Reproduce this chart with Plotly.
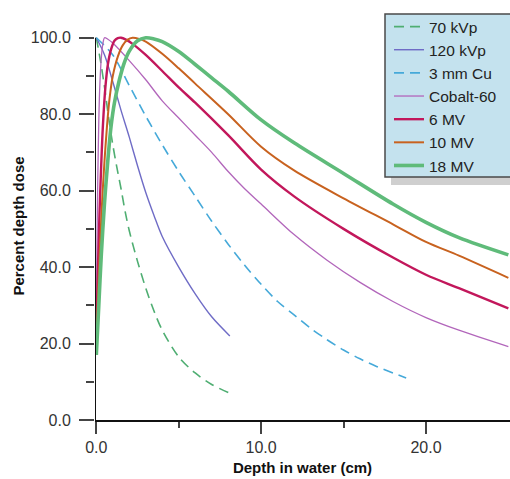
import plotly.graph_objects as go

# Percent depth dose in water for several beam qualities
depth_70kvp = [0, 0.25, 0.5, 0.75, 1.0, 1.25, 1.5, 1.75, 2.0, 2.5, 3.0, 3.5, 4.0, 5.0, 6.0, 7.0, 8.1]
pdd_70kvp = [100, 94, 87, 79, 72, 66, 60.5, 54.5, 49.5, 41.5, 34.5, 28.5, 23.5, 16.5, 12.3, 9.3, 7.0]

depth_120kvp = [0, 0.5, 1, 1.5, 2, 2.5, 3, 3.5, 4, 5, 6, 7, 8.1]
pdd_120kvp = [100, 95.5, 88.5, 81, 74, 66.5, 59.5, 53.5, 48, 40, 33, 27, 22]

depth_cu = [0, 1, 2, 3, 4, 5, 6, 7, 8, 9, 10, 11, 12, 13, 14, 15, 16, 17, 18, 18.8]
pdd_cu = [100, 95.5, 87.5, 79.5, 72, 65, 58.5, 52, 46, 40.5, 35.5, 31, 27.5, 24, 21, 18.3, 16, 14, 12.3, 11]

depth_co = [0, 0.05, 0.1, 0.15, 0.2, 0.3, 0.4, 0.5, 0.7, 1, 2, 3, 4, 5, 6, 7, 8, 9, 10, 12, 14, 16, 18, 20, 22, 25]
pdd_co = [25, 50, 66, 78, 86, 94.5, 98.5, 100, 99.6, 98.6, 94, 89, 83.5, 79, 74.5, 70, 65, 60.5, 56.5, 48.5, 41.8, 36, 31, 26.8, 23.5, 19.2]

depth_6mv = [0, 0.1, 0.2, 0.3, 0.4, 0.55, 0.7, 0.9, 1.1, 1.3, 1.5, 1.8, 2.2, 3, 4, 5, 6, 8, 10, 12, 15, 18, 20, 22, 25]
pdd_6mv = [23, 40, 55, 67, 77, 87, 93, 97, 99.2, 99.9, 100, 99.5, 98.4, 95.5, 91.3, 87, 83, 74.5, 65.5, 58.5, 50, 42.5, 38, 34.5, 29.2]

depth_10mv = [0, 0.1, 0.2, 0.35, 0.5, 0.65, 0.8, 1.0, 1.3, 1.6, 1.9, 2.2, 2.6, 3, 4, 5, 6, 8, 10, 12, 15, 18, 20, 22, 25]
pdd_10mv = [20, 32, 43, 57, 68, 77, 84, 90, 95, 98, 99.5, 100, 99.7, 99, 95.8, 92, 88, 80, 71.5, 65.3, 58, 51.2, 46.6, 43, 37.2]

depth_18mv = [0, 0.15, 0.3, 0.5, 0.7, 0.9, 1.1, 1.4, 1.7, 2.0, 2.5, 3.0, 3.5, 4, 5, 6, 7, 8, 10, 12, 15, 18, 20, 22, 25]
pdd_18mv = [17, 30, 43, 57, 68, 77, 83, 89, 93.5, 96.5, 99.2, 100, 99.7, 99, 96.4, 93, 89.5, 86, 78.5, 72.5, 64.5, 56.5, 51.7, 47.7, 43.2]

series = [
    ("70 kVp", depth_70kvp, pdd_70kvp, "#4fae72", 1.6, "10px,6px"),
    ("120 kVp", depth_120kvp, pdd_120kvp, "#6f6cc6", 1.4, "solid"),
    ("3 mm Cu", depth_cu, pdd_cu, "#45a9d9", 1.6, "10px,6px"),
    ("Cobalt-60", depth_co, pdd_co, "#b266bb", 1.3, "solid"),
    ("6 MV", depth_6mv, pdd_6mv, "#c2175b", 2.4, "solid"),
    ("10 MV", depth_10mv, pdd_10mv, "#c8621f", 2.0, "solid"),
    ("18 MV", depth_18mv, pdd_18mv, "#5fbb7a", 3.6, "solid"),
]

FONT = "Liberation Sans, Arial, sans-serif"

fig = go.Figure()
for i, (name, xs, ys, color, width, dash) in enumerate(series):
    fig.add_trace(go.Scatter(
        x=xs, y=ys, name=name, mode="lines",
        line=dict(color=color, width=width, dash=dash, shape="spline", smoothing=0.9),
        legendgroup=f"g{i}",
    ))

# geometry of the plotting area in pixels
W, H = 510, 479
ML, MR, MT, MB = 95, 0, 32, 59
XR = [-0.08, 25.1]
YR = [0, 101.5]


def px_to_paper(px, py):
    return (px - ML) / (W - ML - MR), (H - MB - py) / (H - MT - MB)


# legend panel with drop shadow
sx0, sy0 = px_to_paper(391, 185)
sx1, sy1 = px_to_paper(530, 20)
bx0, by0 = px_to_paper(385, 177)
bx1, by1 = px_to_paper(530, 14)
fig.add_shape(type="rect", xref="paper", yref="paper", x0=sx0, y0=sy0, x1=sx1, y1=sy1,
              fillcolor="#cfcfcf", line=dict(width=0), layer="above")
fig.add_shape(type="rect", xref="paper", yref="paper", x0=bx0, y0=by0, x1=bx1, y1=by1,
              fillcolor="#c4e2ee", line=dict(color="#4a4a4a", width=1.5), layer="above")

# vertical axis line from 0 to 100
fig.add_shape(type="line", xref="x", yref="y", x0=XR[0], x1=XR[0], y0=0, y1=100,
              line=dict(color="#111", width=2))

lx, ly = px_to_paper(389, 10)
fig.update_layout(
    width=W, height=H,
    margin=dict(l=ML, r=MR, t=MT, b=MB),
    paper_bgcolor="white", plot_bgcolor="white",
    font=dict(family=FONT, size=16, color="#333"),
    showlegend=True,
    legend=dict(
        x=lx, y=ly, xanchor="left", yanchor="top",
        bgcolor="rgba(0,0,0,0)", borderwidth=0,
        font=dict(family=FONT, size=15.5, color="#222"),
        tracegroupgap=0, itemwidth=30,
    ),
    xaxis=dict(
        range=XR, showgrid=False, zeroline=False,
        showline=True, linecolor="#111", linewidth=2,
        tickmode="array", tickvals=[0, 10, 20], ticktext=["0.0", "10.0", "20.0"],
        ticks="outside", ticklen=12, tickwidth=1.5, tickcolor="#444",
        minor=dict(tickvals=[5, 15], ticks="outside", ticklen=6, tickwidth=1.5, tickcolor="#444"),
        tickfont=dict(size=16, color="#333"),
        title=dict(text="<b>Depth in water (cm)</b>", font=dict(size=15, color="#111"), standoff=7),
    ),
    yaxis=dict(
        range=YR, showgrid=False, zeroline=False, showline=False,
        tickmode="array", tickvals=[0, 20, 40, 60, 80, 100],
        ticktext=["0.0", "20.0", "40.0", "60.0", "80.0", "100.0"],
        ticks="outside", ticklen=15, tickwidth=1.5, tickcolor="#444",
        minor=dict(tickvals=[10, 30, 50, 70, 90], ticks="outside", ticklen=8, tickwidth=1.5, tickcolor="#444"),
        tickfont=dict(size=16, color="#333"),
        ticklabelstandoff=5,
        title=dict(text="<b>Percent depth dose</b>", font=dict(size=15, color="#111"), standoff=2),
    ),
)

fig.write_html("out.html")
